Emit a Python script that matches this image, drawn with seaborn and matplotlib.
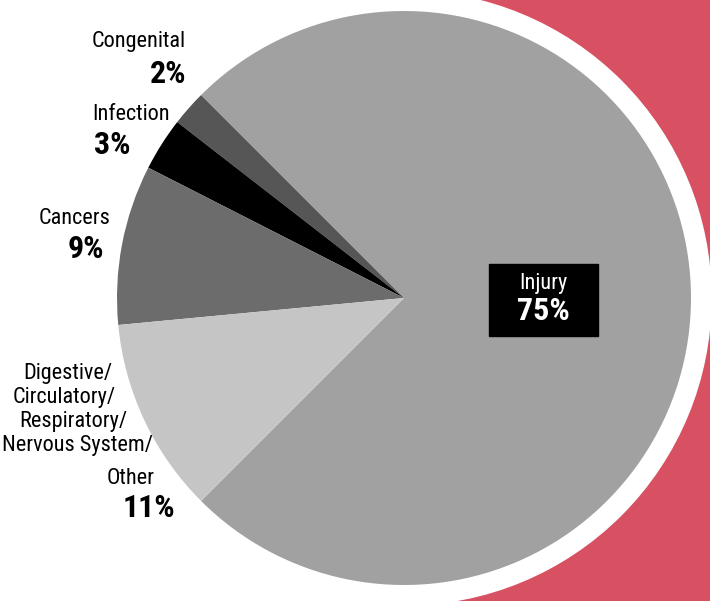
import matplotlib
matplotlib.use("Agg")
import matplotlib.pyplot as plt
import seaborn as sns
from matplotlib import font_manager
from matplotlib.patches import Circle, Rectangle

# Causes of death shares, in the order the wedges are laid out
categories = ["Injury", "Congenital", "Infection", "Cancers",
              "Digestive/Circulatory/Respiratory/Nervous System/Other"]
shares = [75, 2, 3, 9, 11]
slice_colors = ["#a1a1a1", "#565656", "#000000", "#6c6c6c", "#c5c5c5"]
pct_labels = [f"{v}%" for v in shares]

sns.set_theme(style="white")

# prefer a narrow face for the labels
installed = {f.name for f in font_manager.fontManager.ttflist}
narrow_faces = [n for n in ["Liberation Sans Narrow", "DejaVu Sans Condensed",
                            "Roboto Condensed", "Open Sans Condensed"] if n in installed]
plt.rcParams["font.family"] = narrow_faces + ["DejaVu Sans"]
plt.rcParams["font.stretch"] = "condensed"

W, H = 710, 601
fig = plt.figure(figsize=(W / 100, H / 100), dpi=100)
ax = fig.add_axes([0, 0, 1, 1])


def Y(y):
    # image-style y (top down) to axes y (bottom up)
    return H - y


cx, cy = 404, Y(298)
red = "#d85163"

wedges, _ = ax.pie(shares, colors=slice_colors, startangle=225,
                   counterclock=True, center=(cx, cy), radius=287,
                   wedgeprops=dict(linewidth=0), frame=True)
for w in wedges:
    w.set_zorder(2)

# red panel on the right, cut by a white disc behind the pie
ax.add_patch(Rectangle((cx, 0), W - cx, H, color=red, zorder=0))
ax.add_patch(Circle((cx, cy), 307, color="white", zorder=1))

ax.set_xlim(0, W)
ax.set_ylim(0, H)
ax.set_aspect("equal")
ax.axis("off")

lab = dict(fontsize=16, color="black", zorder=5)
big = dict(fontsize=23, fontweight="bold", color="black", zorder=5)

# Congenital
ax.text(186, Y(42), categories[1], ha="right", va="center", **lab)
ax.text(186, Y(74), pct_labels[1], ha="right", va="center", **big)
# Infection
ax.text(92, Y(114), categories[2], ha="left", va="center", **lab)
ax.text(94, Y(145), pct_labels[2], ha="left", va="center", **big)
# Cancers
ax.text(110, Y(219), categories[3], ha="right", va="center", **lab)
ax.text(104, Y(249), pct_labels[3], ha="right", va="center", **big)
# Digestive / Circulatory / ...
other_lines = ["Digestive/", "Circulatory/", "Respiratory/", "Nervous System/", "Other"]
other_right = [112, 116, 127, 153, 155]
other_y = [374, 398, 422, 446, 479]
for t, x, y in zip(other_lines, other_right, other_y):
    ax.text(x, Y(y), t, ha="right", va="center", **lab)
ax.text(175, Y(508), pct_labels[4], ha="right", va="center", **big)

# Injury label in a black box
ax.add_patch(Rectangle((489, Y(336)), 109, 72, color="black", zorder=4))
ax.text(543.5, Y(283), categories[0], ha="center", va="center",
        fontsize=16, color="white", zorder=5)
ax.text(543.5, Y(311), pct_labels[0], ha="center", va="center",
        fontsize=23, fontweight="bold", color="white", zorder=5)

fig.savefig("out.png", dpi=100, facecolor="white")
